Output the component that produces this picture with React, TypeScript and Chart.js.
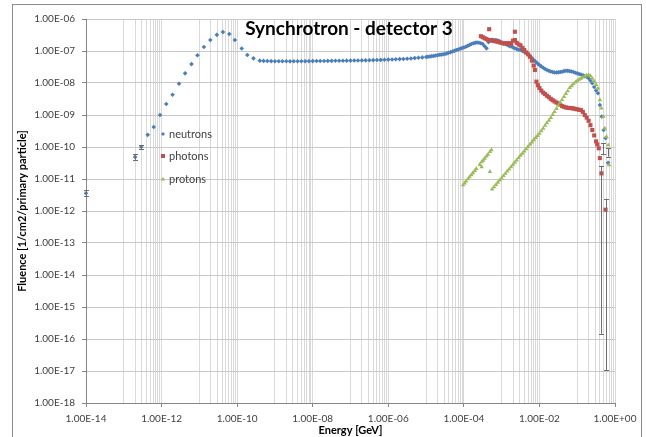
import React, { useEffect, useRef } from "react";
import { Chart, registerables } from "chart.js";

Chart.register(...registerables);

// ---------- text ----------
const chartTitle = "Synchrotron - detector 3";
const xAxisTitle = "Energy [GeV]";
const yAxisTitle = "Fluence [1/cm2/primary particle]";
const seriesNames = ["neutrons", "photons", "protons"];
const xTickLabels = ["1.00E-14", "1.00E-12", "1.00E-10", "1.00E-08", "1.00E-06", "1.00E-04", "1.00E-02", "1.00E+00"];
const yTickLabels = ["1.00E-18", "1.00E-17", "1.00E-16", "1.00E-15", "1.00E-14", "1.00E-13", "1.00E-12", "1.00E-11", "1.00E-10", "1.00E-09", "1.00E-08", "1.00E-07", "1.00E-06"];

// ---------- neutrons ----------
const neutronEnergy = [
  1.0e-14, 2.0e-13, 2.9e-13, 4.3e-13, 6.2e-13, 9.1e-13, 1.33e-12, 1.95e-12, 2.9e-12, 4.2e-12, 6.2e-12, 8.9e-12,
  1.32e-11, 1.95e-11, 2.9e-11, 4.2e-11, 6.2e-11, 8.7e-11, 1.32e-10, 1.86e-10, 2.7e-10,
  3.98e-10, 5.01e-10, 6.31e-10, 7.94e-10,
  1.0e-9, 1.26e-9, 1.58e-9, 2.0e-9, 2.51e-9, 3.16e-9, 3.98e-9, 5.01e-9, 6.31e-9, 7.94e-9,
  1.0e-8, 1.26e-8, 1.58e-8, 2.0e-8, 2.51e-8, 3.16e-8, 3.98e-8, 5.01e-8, 6.31e-8, 7.94e-8,
  1.0e-7, 1.26e-7, 1.58e-7, 2.0e-7, 2.51e-7, 3.16e-7, 3.98e-7, 5.01e-7, 6.31e-7, 7.94e-7,
  1.0e-6, 1.26e-6, 1.58e-6, 2.0e-6, 2.51e-6, 3.16e-6, 3.98e-6, 5.01e-6, 6.31e-6, 7.94e-6,
  1.0e-5,
  1.12e-5, 1.26e-5, 1.41e-5, 1.58e-5, 1.78e-5, 2.0e-5, 2.24e-5, 2.51e-5, 2.82e-5, 3.16e-5, 3.55e-5, 3.98e-5, 4.47e-5, 5.01e-5, 5.62e-5, 6.31e-5, 7.08e-5, 7.94e-5, 8.91e-5, 1.0e-4,
  1.12e-4, 1.26e-4, 1.41e-4, 1.58e-4, 1.78e-4, 2.0e-4, 2.24e-4, 2.51e-4, 2.82e-4, 3.16e-4, 3.55e-4, 3.98e-4, 4.47e-4, 5.01e-4, 5.62e-4, 6.31e-4, 7.08e-4, 7.94e-4, 8.91e-4, 1.0e-3,
  1.12e-3, 1.26e-3, 1.41e-3, 1.58e-3, 1.78e-3, 2.0e-3, 2.24e-3, 2.51e-3, 2.82e-3, 3.16e-3, 3.55e-3, 3.98e-3, 4.47e-3, 5.01e-3, 5.62e-3, 6.31e-3, 7.08e-3, 7.94e-3, 8.91e-3, 1.0e-2,
  1.12e-2, 1.26e-2, 1.41e-2, 1.58e-2, 1.78e-2, 2.0e-2, 2.24e-2, 2.51e-2, 2.82e-2, 3.16e-2, 3.55e-2, 3.98e-2, 4.47e-2, 5.01e-2, 5.62e-2, 6.31e-2, 7.08e-2, 7.94e-2, 8.91e-2, 1.0e-1,
  1.12e-1, 1.26e-1, 1.41e-1, 1.58e-1, 1.78e-1, 2.0e-1, 2.24e-1, 2.51e-1, 2.82e-1, 3.16e-1, 3.55e-1,
  3.98e-1, 4.47e-1, 5.01e-1, 5.62e-1, 6.6e-1,
];
const neutronFluence = [
  3.6e-12, 4.9e-11, 1.0e-10, 2.4e-10, 4.2e-10, 1.0e-9, 2.2e-9, 4.3e-9, 9.5e-9, 2.0e-8, 3.9e-8, 7.4e-8,
  1.33e-7, 2.2e-7, 3.2e-7, 3.9e-7, 3.4e-7, 2.2e-7, 1.2e-7, 7.5e-8, 5.9e-8,
  5.0e-8, 4.9e-8, 4.85e-8, 4.82e-8,
  4.8e-8, 4.78e-8, 4.77e-8, 4.78e-8, 4.75e-8, 4.77e-8, 4.78e-8, 4.8e-8, 4.79e-8, 4.82e-8,
  4.84e-8, 4.85e-8, 4.87e-8, 4.86e-8, 4.9e-8, 4.92e-8, 4.94e-8, 4.95e-8, 4.98e-8, 5.0e-8,
  5.02e-8, 5.03e-8, 5.06e-8, 5.08e-8, 5.1e-8, 5.13e-8, 5.17e-8, 5.22e-8, 5.27e-8, 5.32e-8,
  5.38e-8, 5.42e-8, 5.5e-8, 5.58e-8, 5.65e-8, 5.74e-8, 5.85e-8, 6.0e-8, 6.15e-8, 6.3e-8,
  6.5e-8,
  6.6e-8, 6.75e-8, 6.9e-8, 7.0e-8, 7.2e-8, 7.4e-8, 7.6e-8, 7.7e-8, 7.9e-8, 8.1e-8, 8.4e-8, 8.8e-8, 9.2e-8, 9.6e-8, 1.01e-7, 1.07e-7, 1.12e-7, 1.17e-7, 1.23e-7, 1.29e-7,
  1.36e-7, 1.45e-7, 1.55e-7, 1.66e-7, 1.74e-7, 1.8e-7, 1.85e-7, 1.82e-7, 1.75e-7, 1.66e-7, 1.4e-7, 1.21e-7, 1.9e-7, 2.2e-7, 2.25e-7, 2.2e-7, 2.2e-7, 2.13e-7, 2.0e-7, 1.85e-7,
  1.7e-7, 1.66e-7, 1.55e-7, 1.45e-7, 1.38e-7, 1.29e-7, 1.22e-7, 1.16e-7, 1.1e-7, 1.07e-7, 1.0e-7, 9.3e-8, 8.7e-8, 8.06e-8, 7.0e-8, 6.0e-8, 5.24e-8, 4.6e-8, 4.1e-8, 3.65e-8,
  3.3e-8, 3.0e-8, 2.75e-8, 2.55e-8, 2.4e-8, 2.28e-8, 2.2e-8, 2.13e-8, 2.13e-8, 2.15e-8, 2.2e-8, 2.25e-8, 2.35e-8, 2.42e-8, 2.4e-8, 2.35e-8, 2.28e-8, 2.21e-8, 2.1e-8, 2.0e-8,
  1.91e-8, 1.85e-8, 1.75e-8, 1.65e-8, 1.57e-8, 1.4e-8, 1.2e-8, 9.8e-9, 7.5e-9, 5.8e-9, 4.8e-9,
  2.05e-9, 8.9e-10, 3.4e-10, 1.9e-10, 3.2e-11,
];

// ---------- photons ----------
const photonEnergy = [
  2.82e-4, 3.16e-4, 3.55e-4, 3.98e-4, 4.47e-4, 4.68e-4, 5.01e-4, 5.62e-4, 6.31e-4, 7.08e-4, 7.94e-4, 8.91e-4, 1.0e-3,
  1.12e-3, 1.26e-3, 1.41e-3, 1.58e-3, 1.78e-3, 2.0e-3, 2.24e-3, 2.24e-3, 2.51e-3, 2.82e-3, 3.16e-3, 3.55e-3, 3.98e-3,
  4.47e-3, 5.01e-3, 5.62e-3, 6.31e-3, 7.08e-3, 7.59e-3, 8.32e-3, 9.12e-3, 1.0e-2,
  1.12e-2, 1.26e-2, 1.41e-2, 1.58e-2, 1.78e-2, 2.0e-2, 2.24e-2, 2.51e-2, 2.82e-2, 3.16e-2, 3.55e-2, 3.98e-2, 4.47e-2,
  5.01e-2, 5.62e-2, 6.31e-2, 7.08e-2, 7.94e-2, 8.91e-2, 1.0e-1,
  1.12e-1, 1.26e-1, 1.41e-1, 1.58e-1, 1.78e-1, 2.0e-1, 2.24e-1, 2.51e-1, 2.82e-1, 3.16e-1, 3.39e-1, 3.72e-1, 3.98e-1, 4.37e-1, 5.62e-1,
];
const photonFluence = [
  2.9e-7, 2.7e-7, 2.5e-7, 2.35e-7, 2.2e-7, 4.8e-7, 2.2e-7, 2.1e-7, 2.05e-7, 2.0e-7, 1.95e-7, 1.85e-7, 1.8e-7,
  1.74e-7, 1.74e-7, 1.72e-7, 1.76e-7, 1.65e-7, 2.1e-7, 2.2e-7, 4.0e-7, 1.8e-7, 1.6e-7, 1.5e-7, 1.25e-7, 1.07e-7,
  9.0e-8, 7.8e-8, 6.6e-8, 5.0e-8, 3.5e-8, 2.55e-8, 1.1e-8, 8.5e-9, 7.0e-9,
  5.8e-9, 5.0e-9, 4.5e-9, 4.0e-9, 3.6e-9, 3.2e-9, 2.9e-9, 2.65e-9, 2.45e-9, 2.3e-9, 2.1e-9, 1.9e-9, 1.8e-9,
  1.72e-9, 1.68e-9, 1.65e-9, 1.63e-9, 1.6e-9, 1.55e-9, 1.5e-9,
  1.46e-9, 1.42e-9, 1.25e-9, 1.0e-9, 8.3e-10, 6.6e-10, 4.8e-10, 3.4e-10, 2.3e-10, 1.5e-10, 1.2e-10, 9.1e-11, 4.5e-11, 1.5e-11, 1.1e-12,
];

// ---------- protons ----------
const protonEnergy = [
  9.55e-5, 1.05e-4, 1.15e-4, 1.29e-4, 1.41e-4, 1.58e-4, 1.74e-4, 1.95e-4, 2.14e-4, 2.63e-4, 2.95e-4, 3.24e-4, 3.55e-4,
  3.98e-4, 4.37e-4, 4.9e-4, 5.37e-4, 2.95e-4, 4.9e-4,
  5.62e-4, 6.31e-4, 7.08e-4, 7.94e-4, 8.91e-4, 1.0e-3,
  1.12e-3, 1.26e-3, 1.41e-3, 1.58e-3, 1.78e-3, 2.0e-3, 2.24e-3, 2.51e-3, 2.82e-3, 3.16e-3, 3.55e-3, 3.98e-3,
  4.47e-3, 5.01e-3, 5.62e-3, 6.31e-3, 7.08e-3, 7.94e-3, 8.91e-3, 1.0e-2,
  1.12e-2, 1.26e-2, 1.41e-2, 1.58e-2, 1.78e-2, 2.0e-2, 2.24e-2, 2.51e-2, 2.82e-2, 3.16e-2, 3.55e-2, 3.98e-2,
  4.47e-2, 5.01e-2, 5.62e-2, 6.31e-2, 7.08e-2, 7.94e-2, 8.91e-2, 1.0e-1,
  1.12e-1, 1.26e-1, 1.41e-1, 1.58e-1, 1.78e-1, 2.0e-1, 2.24e-1, 2.51e-1, 2.82e-1, 3.16e-1, 3.55e-1,
  3.98e-1, 4.37e-1, 4.9e-1, 5.37e-1, 5.96e-1, 6.61e-1, 6.98e-1,
];
const protonFluence = [
  6.5e-12, 7.4e-12, 8.5e-12, 1.0e-11, 1.15e-11, 1.35e-11, 1.55e-11, 1.82e-11, 2.1e-11, 2.8e-11, 3.4e-11, 3.8e-11, 4.4e-11,
  5.2e-11, 5.9e-11, 7.1e-11, 8.1e-11, 2.4e-11, 1.7e-11,
  4.8e-12, 5.6e-12, 6.6e-12, 7.8e-12, 9.1e-12, 1.07e-11,
  1.26e-11, 1.48e-11, 1.74e-11, 2.04e-11, 2.4e-11, 2.8e-11, 3.3e-11, 3.9e-11, 4.6e-11, 5.4e-11, 6.3e-11, 7.4e-11,
  8.7e-11, 1.02e-10, 1.2e-10, 1.41e-10, 1.66e-10, 1.95e-10, 2.26e-10, 2.63e-10,
  3.2e-10, 3.8e-10, 4.7e-10, 5.6e-10, 6.8e-10, 8.3e-10, 1.02e-9, 1.26e-9, 1.58e-9, 2.0e-9, 2.45e-9, 3.0e-9,
  3.7e-9, 4.6e-9, 5.6e-9, 7.1e-9, 8.1e-9, 9.3e-9, 1.05e-8, 1.17e-8,
  1.29e-8, 1.38e-8, 1.51e-8, 1.62e-8, 1.74e-8, 1.78e-8, 1.66e-8, 1.38e-8, 1.12e-8, 8.9e-9, 6.8e-9,
  2.95e-9, 1.62e-9, 8.9e-10, 3.8e-10, 2.1e-10, 1.15e-10, 2.75e-11,
];

// ---------- error bars ----------
const errorEnergy = [1.0e-14, 2.0e-13, 2.9e-13, 4.37e-1, 5.62e-1, 4.9e-1, 6.61e-1];
const errorLow = [2.9e-12, 3.9e-11, 8.6e-11, 1.45e-16, 1.07e-17, 6.0e-11, 5.0e-11];
const errorHigh = [4.4e-12, 5.9e-11, 1.15e-10, 2.6e-11, 2.4e-12, 1.3e-10, 9.0e-11];

const blue = "#4a7ebb";
const red = "#c0504d";
const green = "#9bbb59";
const W = 646;
const H = 437;

export default function App() {
  const ref = useRef<HTMLCanvasElement>(null);

  useEffect(() => {
    const canvas = ref.current;
    if (!canvas) return;

    const xMajor = xTickLabels.map(Number);
    const xTicks: { v: number; label: string; major: boolean }[] = [];
    xMajor.forEach((m, i) => {
      xTicks.push({ v: m, label: xTickLabels[i], major: true });
      if (i < xMajor.length - 1) {
        for (let k = 1; k <= 9; k++) xTicks.push({ v: k * m * 10, label: "", major: false });
      }
    });
    const yTicks = yTickLabels.map((s) => ({ v: Number(s), label: s }));

    const toPts = (xs: number[], ys: number[]) => xs.map((x, i) => ({ x, y: ys[i] }));

    const framePlugin = {
      id: "frame",
      afterDraw(chart: any) {
        const ctx = chart.ctx;
        ctx.save();
        ctx.strokeStyle = "#8c8c8c";
        ctx.lineWidth = 1;
        ctx.strokeRect(12.5, 4.5, 629, 445);
        ctx.restore();
      },
    };

    const errorPlugin = {
      id: "errbars",
      afterDatasetsDraw(chart: any) {
        const ctx = chart.ctx;
        const xs = chart.scales.x;
        const ys = chart.scales.y;
        ctx.save();
        ctx.strokeStyle = "#6e6e6e";
        ctx.lineWidth = 1;
        errorEnergy.forEach((e, i) => {
          const px = Math.round(xs.getPixelForValue(e)) + 0.5;
          const y1 = ys.getPixelForValue(errorHigh[i]);
          const y2 = ys.getPixelForValue(errorLow[i]);
          ctx.beginPath();
          ctx.moveTo(px, y1);
          ctx.lineTo(px, y2);
          ctx.moveTo(px - 2.5, Math.round(y1) + 0.5);
          ctx.lineTo(px + 2.5, Math.round(y1) + 0.5);
          ctx.moveTo(px - 2.5, Math.round(y2) + 0.5);
          ctx.lineTo(px + 2.5, Math.round(y2) + 0.5);
          ctx.stroke();
        });
        ctx.restore();
      },
    };

    const titlePlugin = {
      id: "ttl",
      afterDraw(chart: any) {
        const ctx = chart.ctx;
        ctx.save();
        ctx.font = "bold 19px Lato";
        ctx.fillStyle = "#000000";
        ctx.textAlign = "center";
        ctx.textBaseline = "alphabetic";
        ctx.fillText(chartTitle, 349, 35);
        ctx.restore();
      },
    };

    const legendPlugin = {
      id: "lgd",
      afterDraw(chart: any) {
        const ctx = chart.ctx;
        const styles = ["rectRot", "rect", "triangle"];
        const colors = [blue, red, green];
        const rows = [134, 156, 179];
        ctx.save();
        seriesNames.forEach((name, i) => {
          ctx.fillStyle = colors[i];
          const x = 163;
          const y = rows[i];
          ctx.beginPath();
          if (styles[i] === "rectRot") {
            ctx.moveTo(x, y - 2);
            ctx.lineTo(x + 2, y);
            ctx.lineTo(x, y + 2);
            ctx.lineTo(x - 2, y);
          } else if (styles[i] === "rect") {
            ctx.rect(x - 2, y - 2, 4, 4);
          } else {
            ctx.moveTo(x, y - 2.2);
            ctx.lineTo(x + 2.2, y + 1.6);
            ctx.lineTo(x - 2.2, y + 1.6);
          }
          ctx.closePath();
          ctx.fill();
          ctx.font = "11px Lato";
          ctx.fillStyle = "#404040";
          ctx.textAlign = "left";
          ctx.textBaseline = "middle";
          ctx.fillText(name, 169, y);
        });
        ctx.restore();
      },
    };

    const chart = new Chart(canvas, {
      type: "scatter",
      data: {
        datasets: [
          {
            label: seriesNames[2],
            data: toPts(protonEnergy, protonFluence),
            pointStyle: "triangle",
            pointRadius: 2.6,
            backgroundColor: green,
            borderColor: green,
            borderWidth: 0,
            order: 1,
            clip: 6,
          },
          {
            label: seriesNames[1],
            data: toPts(photonEnergy, photonFluence),
            pointStyle: "rect",
            pointRadius: 2.9,
            backgroundColor: red,
            borderColor: red,
            borderWidth: 0,
            order: 2,
            clip: 6,
          },
          {
            label: seriesNames[0],
            data: toPts(neutronEnergy, neutronFluence),
            pointStyle: "rectRot",
            pointRadius: 2.3,
            backgroundColor: blue,
            borderColor: blue,
            borderWidth: 0,
            order: 3,
            clip: 6,
          },
        ],
      },
      options: {
        animation: false,
        responsive: false,
        maintainAspectRatio: false,
        layout: { padding: { left: 0, top: 19, right: 31, bottom: 0 } },
        plugins: { legend: { display: false }, tooltip: { enabled: false } },
        scales: {
          x: {
            type: "logarithmic",
            min: 1e-14,
            max: 1,
            afterBuildTicks: (s: any) => {
              s.ticks = xTicks.map((t) => ({ value: t.v }));
            },
            afterFit: (s: any) => {
              s.height = 34;
            },
            ticks: {
              autoSkip: false,
              maxRotation: 0,
              minRotation: 0,
              padding: 6,
              color: "#404040",
              font: { family: "Lato", size: 10 },
              callback: (_v: any, i: number) => (xTicks[i] ? xTicks[i].label : ""),
            },
            grid: {
              color: "#d9d9d9",
              lineWidth: 1,
              tickLength: 4,
              tickColor: (ctx: any) => (xTicks[ctx.index] && xTicks[ctx.index].major ? "#868686" : "rgba(0,0,0,0)"),
            },
            border: { color: "#868686" },
            title: {
              display: true,
              text: xAxisTitle,
              color: "#000000",
              font: { family: "Lato", size: 11, weight: "bold" },
              padding: { top: 0, bottom: 0 },
            },
          },
          y: {
            type: "logarithmic",
            min: 1e-18,
            max: 1e-6,
            afterBuildTicks: (s: any) => {
              s.ticks = yTicks.map((t) => ({ value: t.v }));
            },
            afterFit: (s: any) => {
              s.width = 86;
            },
            ticks: {
              autoSkip: false,
              padding: 7,
              color: "#404040",
              font: { family: "Lato", size: 10 },
              callback: (_v: any, i: number) => (yTicks[i] ? yTicks[i].label : ""),
            },
            grid: {
              color: "#c8c8c8",
              lineWidth: 1,
              tickLength: 4,
              tickColor: "#868686",
            },
            border: { color: "#868686" },
            title: {
              display: true,
              text: yAxisTitle,
              color: "#000000",
              font: { family: "Lato", size: 11, weight: "bold" },
              padding: { top: 16, bottom: 0 },
            },
          },
        },
      } as any,
      plugins: [errorPlugin, titlePlugin, legendPlugin, framePlugin],
    });

    return () => chart.destroy();
  }, []);

  return (
    <div style={{ position: "absolute", left: 0, top: 0, width: W, height: H, background: "#ffffff" }}>
      <canvas ref={ref} width={W} height={H} style={{ display: "block", width: W, height: H }} />
    </div>
  );
}
